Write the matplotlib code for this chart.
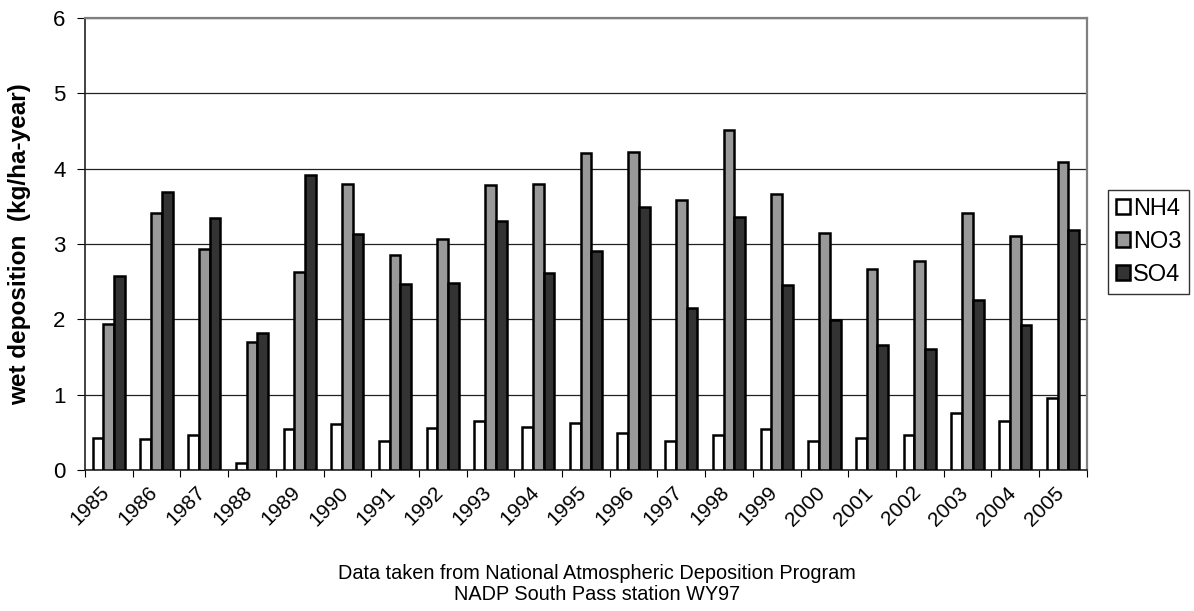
import numpy as np
import matplotlib
matplotlib.use("Agg")
import matplotlib.pyplot as plt
import matplotlib.transforms as mtransforms
from matplotlib.patches import Patch

plt.rcParams['font.family'] = ['Liberation Sans', 'DejaVu Sans']

years = [str(y) for y in range(1985, 2006)]
nh4 = [0.42, 0.41, 0.46, 0.09, 0.55, 0.61, 0.38, 0.56, 0.65, 0.57, 0.62,
       0.49, 0.39, 0.47, 0.54, 0.39, 0.43, 0.47, 0.75, 0.65, 0.96]
no3 = [1.94, 3.41, 2.94, 1.70, 2.63, 3.80, 2.86, 3.06, 3.78, 3.80, 4.21,
       4.22, 3.59, 4.51, 3.67, 3.14, 2.67, 2.77, 3.41, 3.11, 4.09]
so4 = [2.57, 3.69, 3.34, 1.82, 3.91, 3.13, 2.47, 2.48, 3.31, 2.62, 2.91,
       3.49, 2.15, 3.36, 2.46, 1.99, 1.66, 1.60, 2.25, 1.93, 3.18]
series = [('NH4', nh4, 'white'), ('NO3', no3, '#999999'), ('SO4', so4, '#333333')]

fig = plt.figure(figsize=(11.94, 6.11), dpi=100)
ax = fig.add_axes([0.0712, 0.2308, 0.839, 0.7397])

x = np.arange(len(years))
w = 0.225
for i, (name, vals, col) in enumerate(series):
    ax.bar(x + (i - 1) * w, vals, w, color=col, edgecolor='black', linewidth=1.8, zorder=3)

ax.set_xlim(-0.5, len(years) - 0.5)
ax.set_ylim(0, 6)
ax.set_yticks(range(7))
ax.tick_params(axis='y', labelsize=16, length=6, direction='out', pad=8)
ax.yaxis.grid(True, color='#222222', linewidth=0.9, zorder=0)

# category ticks at boundaries, labels at centres
ax.set_xticks(np.arange(len(years) + 1) - 0.5)
ax.set_xticklabels([])
ax.set_xticks(x, minor=True)
ax.set_xticklabels(years, minor=True, rotation=45, ha='right', rotation_mode='anchor', fontsize=15)
ax.tick_params(axis='x', which='major', length=5, direction='out')
ax.tick_params(axis='x', which='minor', length=0, pad=5)
for lab in ax.get_xticklabels(minor=True):
    lab.set_transform(lab.get_transform() + mtransforms.ScaledTranslation(-9 / 100, -6 / 100, fig.dpi_scale_trans))

for s in ['top', 'right']:
    ax.spines[s].set_color('#808080')
    ax.spines[s].set_linewidth(1.6)
for s in ['left', 'bottom']:
    ax.spines[s].set_color('#222222')
    ax.spines[s].set_linewidth(1.2)

ax.set_ylabel('wet deposition  (kg/ha-year)', fontsize=17.5, fontweight='bold', labelpad=16)

handles = [Patch(facecolor=c, edgecolor='black', linewidth=1.8, label=n) for n, v, c in series]
leg = fig.legend(handles=handles, loc='upper left', bbox_to_anchor=(0.928, 0.689),
                 fontsize=17, frameon=True, fancybox=False, edgecolor='black',
                 handlelength=0.6, handleheight=0.6, handletextpad=0.1,
                 borderpad=0.35, labelspacing=0.45, borderaxespad=0)
leg.get_frame().set_linewidth(1.0)

fig.text(0.5, 0.044, 'Data taken from National Atmospheric Deposition Program\nNADP South Pass station WY97',
         ha='center', va='center', fontsize=14.3, linespacing=1.15)

fig.savefig('out.png', dpi=100, facecolor='white')
